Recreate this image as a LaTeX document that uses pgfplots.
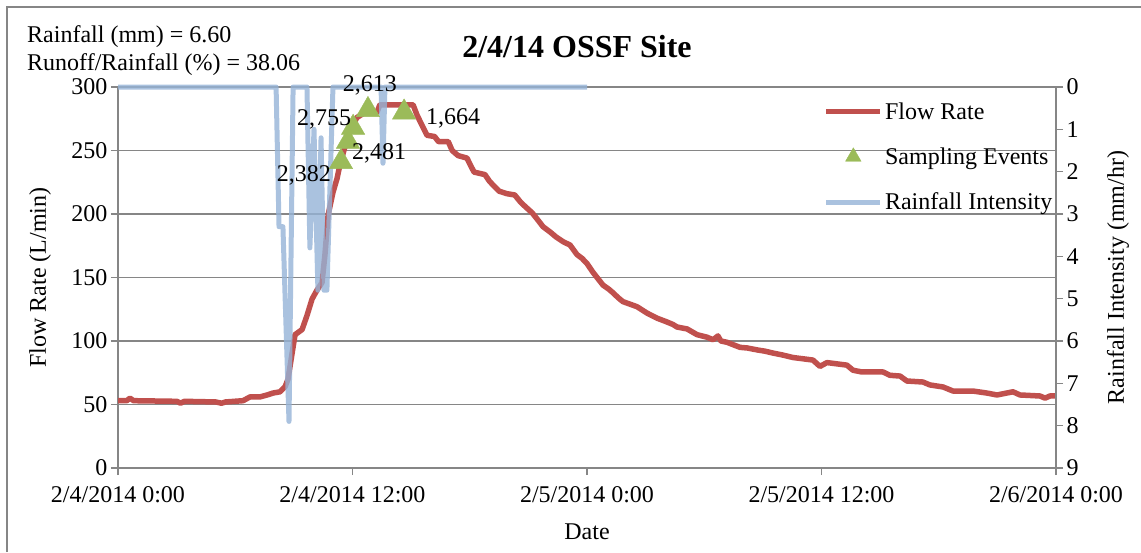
\documentclass[border=0pt]{standalone}
\usepackage{fontspec}
\setmainfont{Liberation Serif}
\usepackage{pgfplots}
\pgfplotsset{compat=1.18}
\usepackage{pgfplotstable}
\definecolor{flowred}{RGB}{192,80,77}
\definecolor{sampgreen}{RGB}{155,187,89}
\definecolor{rainblue}{RGB}{149,179,215}
\definecolor{gridgray}{RGB}{134,134,134}

\pgfplotstableread{
h q
0 53
0.45 53
0.61 55
0.80 53
3.02 52.5
3.20 51
3.40 52.5
5.00 52
5.30 51
5.50 52
6.40 53
6.76 56
7.27 56
7.63 57.5
7.93 59
8.29 60
8.55 64
8.70 70
9.06 105
9.42 109
9.67 120
9.93 133
10.18 140
10.44 146
10.59 168
10.75 199
11.00 217
11.21 228
11.36 239
11.56 250
11.87 266
12.23 276
12.64 280
13.25 280
13.40 286
15.10 286
15.30 278
15.55 270
15.81 262
16.20 261
16.40 257
16.90 257
17.10 250
17.40 246
17.86 244
18.05 238
18.22 233
18.78 231
19.00 226
19.24 222
19.50 218
19.90 216
20.30 215
20.62 209
20.90 205
21.19 201
21.50 195
21.75 190
22.10 186
22.41 182
22.80 178
23.13 175.6
23.49 168
23.75 165
24.00 161
24.31 154
24.82 144
25.10 141
25.33 138
25.60 134
25.84 131
26.20 129
26.56 127
27.07 122
27.58 118
28.09 115
28.40 113
28.61 111
29.12 109.5
29.63 105
30.14 103
30.45 101
30.70 104
30.85 100
31.16 99
31.83 95
32.20 94.5
32.70 93
33.10 92
33.52 90.5
34.00 89
34.54 87
35.56 85
35.92 80
36.28 83
37.30 81
37.61 77
38.07 75.6
39.15 75.6
39.50 73
40.02 72.4
40.37 68.5
41.19 67.7
41.55 65.4
42.22 63.8
42.73 60.6
43.75 60.6
44.47 59
44.98 57.5
45.80 60
46.16 57.5
47.18 56.7
47.44 55
47.69 56.7
48.00 56.7
}\flowdata

\pgfplotstableread{
h r
0 0
8.09 0
8.24 3.3
8.44 3.3
8.75 7.9
8.96 0
9.67 0
9.82 3.8
10.03 1.0
10.23 4.8
10.39 1.2
10.54 4.8
10.69 4.8
11.00 0
13.46 0
13.56 1.8
13.66 0
24.00 0
}\raindata

\pgfplotstableread{
h q lab dx dy
11.41 241 2,382 -37 -13
11.77 257 2,481 31 -12
12.03 268 2,755 -29 8
12.79 282 2,613 2 24
14.64 280 1,664 49 -6
}\sampdata

\newcommand{\bodyfont}{\fontsize{24}{28}\selectfont}

\begin{document}
\begin{tikzpicture}[x=1pt,y=1pt]
\useasboundingbox (0,0) rectangle (1141,552);
\draw[gridgray, line width=1.2pt] (7,0) -- (7,545) -- (1141,545);

\pgfplotsset{
  base/.style={
    at={(118pt,84pt)}, anchor=south west,
    scale only axis, width=938pt, height=381pt,
    xmin=0, xmax=48,
    tick label style={font=\bodyfont},
    label style={font=\bodyfont},
    /pgf/number format/assume math mode=true,
    tick align=outside,
    major tick length=7pt,
    axis line style={gridgray, line width=1.5pt},
    every tick/.style={gridgray, line width=1.5pt},
    clip=false,
  }
}

% Primary axis: flow rate
\begin{axis}[base,
  ymin=0, ymax=300,
  ytick={0,50,...,300},
  axis x line*=bottom, axis y line*=left,
  xtick={0,12,24,36,48},
  xticklabels={2/4/2014 0:00, 2/4/2014 12:00, 2/5/2014 0:00, 2/5/2014 12:00, 2/6/2014 0:00},
  xticklabel style={yshift=-8pt},
  ymajorgrids,
  major grid style={gridgray, line width=1.5pt},
  xlabel={Date},
  ylabel={Flow Rate (L/min)},
  xlabel style={at={(axis description cs:0.5,-0.168)}, anchor=center},
  ylabel style={at={(axis description cs:-0.083,0.5)}, anchor=center},
]
\addplot[flowred, line width=5.5pt, line join=round] table[x=h,y=q]{\flowdata};
\end{axis}

% Secondary axis: rainfall intensity
\begin{axis}[base,
  ymin=0, ymax=9, y dir=reverse,
  ytick={0,1,...,9},
  axis x line=none, axis y line*=right,
  ylabel={Rainfall Intensity (mm/hr)},
  ylabel style={at={(axis description cs:1.066,0.5)}, anchor=center},
  legend style={at={(0.752,0.965)}, anchor=north west, draw=none, fill=none,
    font=\bodyfont, inner sep=0pt, row sep=23pt,
    nodes={inner sep=2pt}},
  legend image code/.code={\draw[mark repeat=2,mark phase=2,#1] plot coordinates {(0pt,0pt) (27pt,0pt) (54pt,0pt)};},
  legend cell align=left,
]
\addlegendimage{flowred, line width=5.5pt}
\addlegendentry{Flow Rate}
\addlegendimage{only marks, mark=triangle*, mark size=9pt, color=sampgreen}
\addlegendentry{Sampling Events}
\addplot[rainblue, opacity=0.8, line width=5pt, line join=round] table[x=h,y=r]{\raindata};
\addlegendentry{Rainfall Intensity}
\end{axis}

% Sampling events on top
\begin{axis}[base,
  ymin=0, ymax=300,
  hide axis,
]
\addplot[only marks, mark=triangle*, mark size=13.5pt, color=sampgreen,
  point meta=explicit symbolic,
  visualization depends on={\thisrow{dx}\as\dx},
  visualization depends on={\thisrow{dy}\as\dy},
  nodes near coords,
  nodes near coords style={anchor=center, xshift=\dx pt, yshift=\dy pt, text=black, inner sep=0pt, font=\bodyfont},
] table[x=h,y=q,meta=lab]{\sampdata};
\end{axis}

\node[font=\fontsize{32}{36}\selectfont\bfseries] at (577,505) {2/4/14 OSSF Site};
\node[font=\bodyfont, anchor=west, inner sep=0pt] at (27,515) {Rainfall (mm) = 6.60};
\node[font=\bodyfont, anchor=west, inner sep=0pt] at (27,487) {Runoff/Rainfall (\%) = 38.06};
\end{tikzpicture}
\end{document}
